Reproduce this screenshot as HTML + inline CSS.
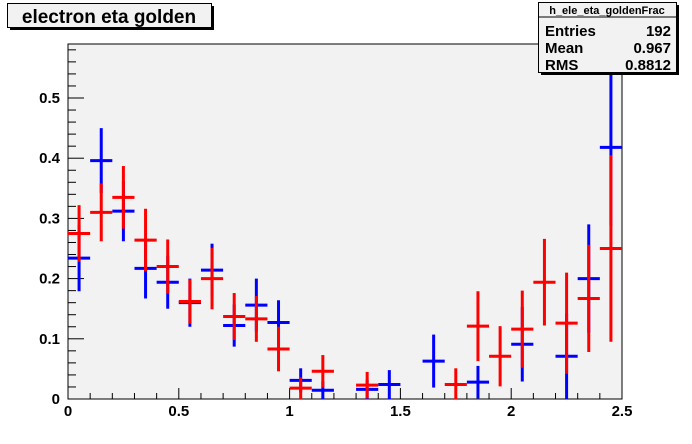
<!DOCTYPE html>
<html><head><meta charset="utf-8"><style>
body{margin:0;background:#fff;}
svg{display:block;font-family:"Liberation Sans",Arial,sans-serif;}
</style></head><body>
<svg id="chart" width="692" height="444" viewBox="0 0 692 444" xmlns="http://www.w3.org/2000/svg">
<rect x="0" y="0" width="692" height="444" fill="#ffffff"/>
<rect x="68" y="44" width="554" height="355" fill="#f2f2f2" stroke="#000" stroke-width="1"/>
<g id="axes"></g>
<g id="series-blue"></g>
<g id="series-red"></g>
<g>
<rect x="10" y="6" width="204" height="24" fill="#000"/>
<rect x="7.5" y="3.5" width="204" height="24" fill="#f2f2f2" stroke="#000"/>
<text x="109" y="23" text-anchor="middle" font-size="19" font-weight="bold">electron eta golden</text>
</g>
<g>
<rect x="541" y="5" width="138" height="70" fill="#000"/>
<rect x="538.5" y="2.5" width="138" height="70" fill="#f2f2f2" stroke="#000"/>
<line x1="538.5" y1="17" x2="676.5" y2="17" stroke="#000"/>
<text x="607" y="14" text-anchor="middle" font-size="11" font-weight="bold">h_ele_eta_goldenFrac</text>
<text x="545" y="36" font-size="15" font-weight="bold">Entries</text><text x="671" y="36" text-anchor="end" font-size="15" font-weight="bold">192</text>
<text x="545" y="53" font-size="15" font-weight="bold">Mean</text><text x="671" y="53" text-anchor="end" font-size="15" font-weight="bold">0.967</text>
<text x="545" y="70" font-size="15" font-weight="bold">RMS</text><text x="671" y="70" text-anchor="end" font-size="15" font-weight="bold">0.8812</text>
</g>
</svg>
<script>
const binLow = [0,0.1,0.2,0.3,0.4,0.5,0.6,0.7,0.8,0.9,1.0,1.1,1.2,1.3,1.4,1.5,1.6,1.7,1.8,1.9,2.0,2.1,2.2,2.3,2.4];
const blueValues = [0.234,0.396,0.312,0.217,0.194,0.160,0.214,0.122,0.156,0.127,0.031,0.0145,null,0.016,0.024,null,0.063,null,0.028,null,0.091,null,0.071,0.200,0.418];
const blueErrors = [0.055,0.054,0.050,0.050,0.044,0.040,0.044,0.035,0.044,0.037,0.020,0.015,null,0.016,0.024,null,0.044,null,0.027,null,0.062,null,0.071,0.090,0.13];
const redValues = [0.275,0.310,0.335,0.264,0.220,0.162,0.200,0.137,0.133,0.083,0.018,0.046,null,0.023,null,null,null,0.024,0.121,0.071,0.116,0.194,0.126,0.167,0.250];
const redErrors = [0.047,0.048,0.052,0.052,0.045,0.037,0.051,0.039,0.038,0.037,0.018,0.027,null,0.022,null,null,null,0.027,0.058,0.050,0.064,0.072,0.084,0.089,0.155];
const binWidth = 0.1;
const xTicks = [0,0.5,1,1.5,2,2.5];
const xTickLabels = ["0","0.5","1","1.5","2","2.5"];
const yTicks = [0,0.1,0.2,0.3,0.4,0.5];
const yTickLabels = ["0","0.1","0.2","0.3","0.4","0.5"];
const X0=68,X1=622,Y0=399,YTOP=44;
const xS=v=>X0+(v-0)/(2.5)*(X1-X0);
const yS=v=>Y0-v*602;
const ns="http://www.w3.org/2000/svg";
function mk(tag,attrs,parent){const e=document.createElementNS(ns,tag);for(const k in attrs)e.setAttribute(k,attrs[k]);parent.appendChild(e);return e;}
const axes=document.getElementById('axes');
mk('line',{x1:X0,y1:Y0,x2:X1,y2:Y0,stroke:'#000'},axes);
mk('line',{x1:X0,y1:Y0,x2:X0,y2:YTOP,stroke:'#000'},axes);
for(let i=0;i<=25;i++){const v=i*0.1;const big=(i%5===0);
 const t=mk('line',{x1:xS(v),x2:xS(v),y1:Y0,y2:Y0-(big?11:6),stroke:'#000'},axes);}
xTicks.forEach((v,i)=>{const t=mk('text',{x:xS(v),y:416,'text-anchor':'middle','font-size':15,'font-weight':'bold'},axes);t.textContent=xTickLabels[i];
 
 });
for(let i=0;i<=58;i+=2){const v=i*0.01;const big=(i%10===0);
 mk('line',{x1:X0,x2:X0+(big?16:8),y1:yS(v),y2:yS(v),stroke:'#000'},axes);}
yTicks.forEach((v,i)=>{const t=mk('text',{x:60,y:yS(v)+5,'text-anchor':'end','font-size':15,'font-weight':'bold'},axes);t.textContent=yTickLabels[i];
 
 });
function draw(g,vals,errs,col,name){
 vals.forEach((v,i)=>{if(v===null)return;const e=errs[i];
  const xc=xS(binLow[i]+binWidth/2);
  const grp=mk('g',{},g);
  
  
  const top=Math.max(yS(v+e),YTOP),bot=Math.min(yS(v-e),Y0);
  mk('line',{x1:xc,x2:xc,y1:top,y2:bot,stroke:col,'stroke-width':3},grp);
  mk('line',{x1:xS(binLow[i]),x2:xS(binLow[i]+binWidth),y1:yS(v),y2:yS(v),stroke:col,'stroke-width':3},grp);
 });}
draw(document.getElementById('series-blue'),blueValues,blueErrors,'#0000ff','blue');
draw(document.getElementById('series-red'),redValues,redErrors,'#ff0000','red');
</script>
</body></html>
